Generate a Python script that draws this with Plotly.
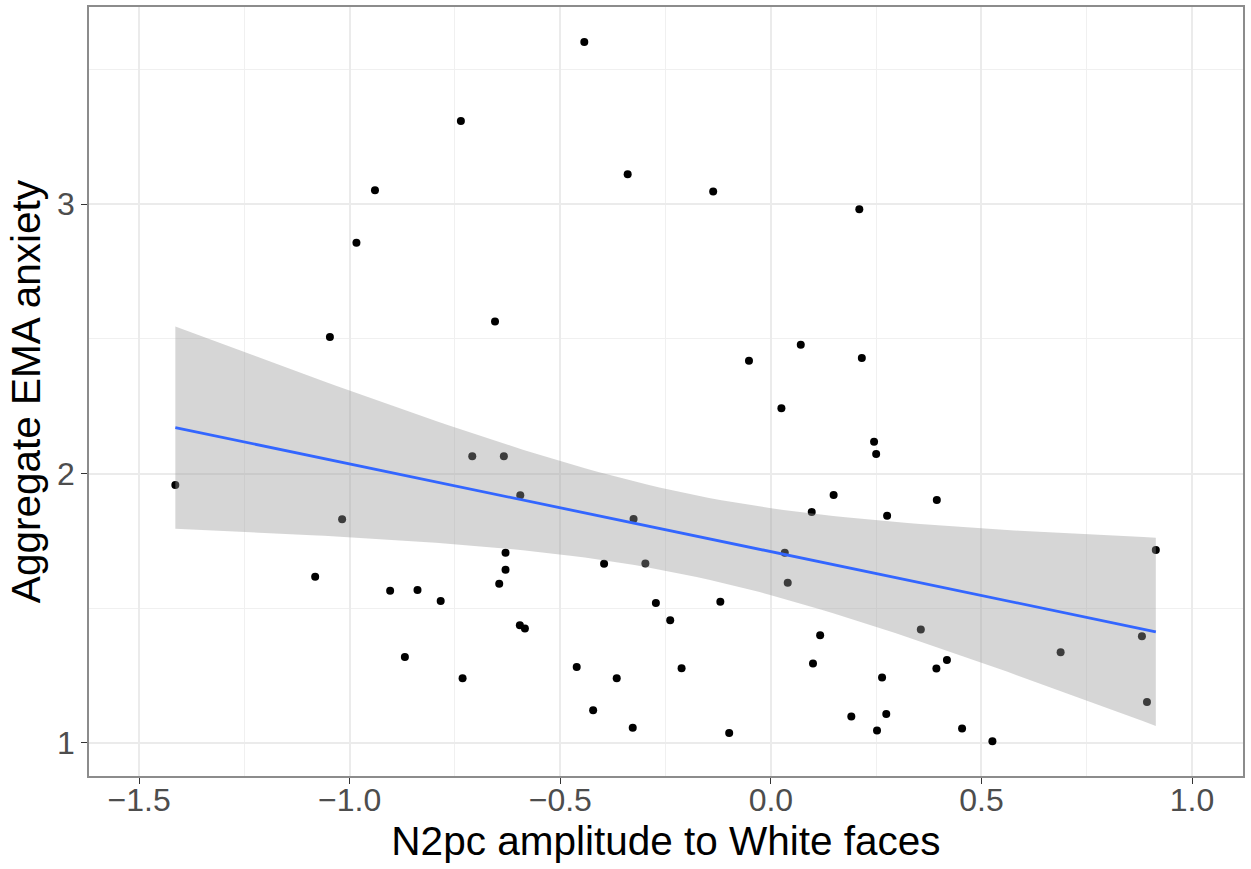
import numpy as np
import plotly.graph_objects as go

# Data
n2pc_white = [
    -1.414, -1.082, -1.047, -1.018, -0.984, -0.940, -0.904, -0.869, -0.839, -0.784,
    -0.736, -0.732, -0.709, -0.655, -0.645, -0.634, -0.630, -0.630, -0.596, -0.595,
    -0.584, -0.461, -0.443, -0.422, -0.396, -0.366, -0.340, -0.328, -0.326, -0.298,
    -0.273, -0.239, -0.212, -0.137, -0.120, -0.099, -0.052, 0.025, 0.033, 0.040,
    0.071, 0.097, 0.100, 0.117, 0.149, 0.191, 0.210, 0.216, 0.245, 0.250,
    0.252, 0.264, 0.274, 0.276, 0.356, 0.393, 0.394, 0.418, 0.454, 0.526,
    0.688, 0.881, 0.893, 0.914,
]
ema_anxiety = [
    1.957, 1.617, 2.507, 1.830, 2.857, 3.052, 1.565, 1.319, 1.568, 1.527,
    3.309, 1.240, 2.064, 2.564, 1.591, 2.064, 1.643, 1.706, 1.437, 1.919,
    1.425, 1.282, 3.602, 1.121, 1.665, 1.240, 3.111, 1.056, 1.831, 1.666,
    1.519, 1.455, 1.277, 3.047, 1.524, 1.037, 2.419, 2.242, 1.706, 1.594,
    2.478, 1.857, 1.295, 1.400, 1.920, 1.098, 2.981, 2.429, 2.118, 2.072,
    1.046, 1.243, 1.107, 1.843, 1.421, 1.276, 1.902, 1.308, 1.053, 1.006,
    1.336, 1.396, 1.152, 1.716,
]

x_title = "N2pc amplitude to White faces"
y_title = "Aggregate EMA anxiety"
x_tickvals = [-1.5, -1.0, -0.5, 0.0, 0.5, 1.0]
y_tickvals = [1, 2, 3]

# Linear model fit with 95% confidence band (like geom_smooth(method = "lm"))
x = np.array(n2pc_white)
y = np.array(ema_anxiety)
n = len(x)
X = np.column_stack([np.ones(n), x])
beta, *_ = np.linalg.lstsq(X, y, rcond=None)
resid = y - X @ beta
df = n - 2
s2 = resid @ resid / df
XtX_inv = np.linalg.inv(X.T @ X)
z = 1.959964
tq = z + (z**3 + z) / (4 * df) + (5 * z**5 + 16 * z**3 + 3 * z) / (96 * df**2)
xg = np.linspace(x.min(), x.max(), 80)
Xg = np.column_stack([np.ones_like(xg), xg])
fit = Xg @ beta
se = np.sqrt(np.einsum("ij,jk,ik->i", Xg, XtX_inv, Xg) * s2)
lo = fit - tq * se
hi = fit + tq * se

fig = go.Figure()
fig.add_trace(go.Scatter(
    x=n2pc_white, y=ema_anxiety, mode="markers",
    marker=dict(color="black", size=8, line=dict(width=0)),
    showlegend=False, hoverinfo="x+y",
))
fig.add_trace(go.Scatter(
    x=np.concatenate([xg, xg[::-1]]), y=np.concatenate([hi, lo[::-1]]),
    mode="lines", fill="toself", fillcolor="rgba(153,153,153,0.4)",
    line=dict(width=0, color="rgba(0,0,0,0)"), showlegend=False, hoverinfo="skip",
))
fig.add_trace(go.Scatter(
    x=xg, y=fit, mode="lines", line=dict(color="#3366FF", width=2.8),
    showlegend=False, hoverinfo="skip",
))

axis_common = dict(
    showgrid=True, gridcolor="#EBEBEB", gridwidth=1.8,
    showline=True, linecolor="#8C8C8C", linewidth=1.5, mirror=True,
    ticks="outside", ticklen=6, tickcolor="#333333", tickwidth=1.3,
    tickfont=dict(family="Liberation Sans, Arial, sans-serif", size=32, color="#4D4D4D"),
    zeroline=False,
)

fig.update_layout(
    width=1251, height=869,
    paper_bgcolor="white", plot_bgcolor="white",
    margin=dict(l=89, r=8, t=7, b=93, autoexpand=False),
    showlegend=False,
    font=dict(family="Liberation Sans, Arial, sans-serif"),
    xaxis=dict(
        **axis_common,
        range=[-1.619, 1.121], tickvals=x_tickvals, tickformat=".1f",
        ticklabelstandoff=-11,
        minor=dict(dtick=0.25, tick0=0, showgrid=True, gridcolor="#F0F0F0", gridwidth=1, ticks=""),
        title=dict(text=x_title, font=dict(size=40.5, color="black"), standoff=8),
    ),
    yaxis=dict(
        **axis_common,
        range=[0.877, 3.732], tickvals=y_tickvals,
        minor=dict(dtick=0.5, tick0=0, showgrid=True, gridcolor="#F0F0F0", gridwidth=1, ticks=""),
        title=dict(text=y_title, font=dict(size=40.5, color="black"), standoff=4),
    ),
)

fig.write_html("out.html", config={"displayModeBar": False},
               post_script="document.body.style.margin='0';")
